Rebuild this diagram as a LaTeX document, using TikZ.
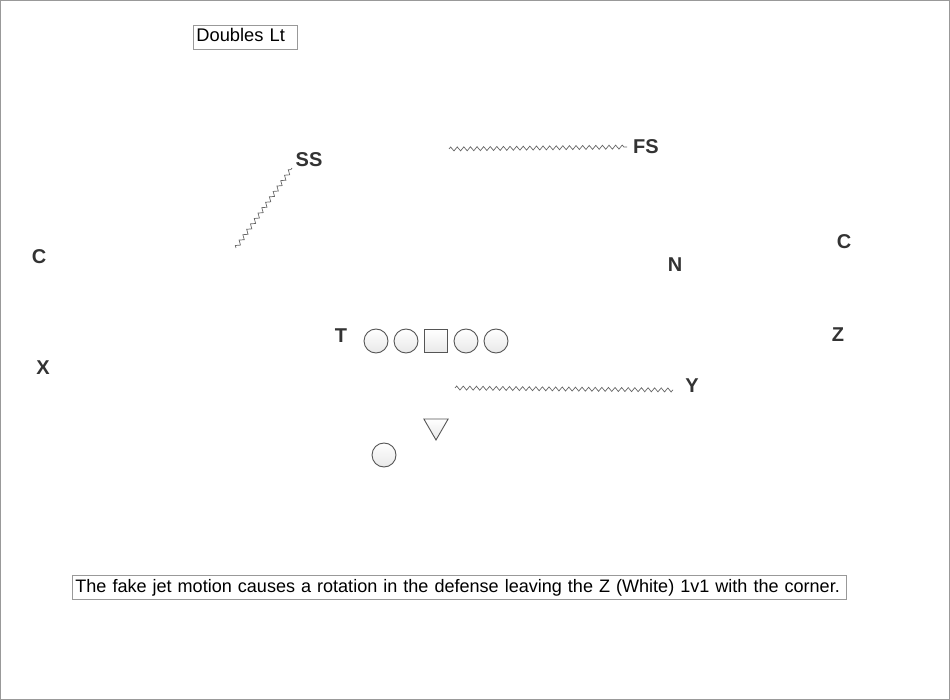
\documentclass[tikz,border=0pt]{standalone}
\usepackage{fontspec}
\setmainfont{Liberation Sans}
\usepackage{tikz}
\usetikzlibrary{decorations.pathmorphing,shapes.geometric}

\definecolor{labelgray}{HTML}{333333}
\definecolor{linegray}{HTML}{555555}
\definecolor{framegray}{HTML}{999999}

\tikzset{
  player/.style={draw=linegray, line width=0.9pt, top color=white, bottom color=gray!18, circle, minimum size=24pt, inner sep=0pt},
  center/.style={draw=linegray, line width=0.9pt, top color=white, bottom color=gray!18, rectangle, minimum size=23pt, inner sep=0pt},
  qback/.style={draw=linegray, line width=0.9pt, top color=white, bottom color=gray!18, regular polygon, regular polygon sides=3, shape border rotate=180, minimum size=28pt, inner sep=0pt},
  defender/.style={font=\fontsize{20}{20}\selectfont\bfseries, text=labelgray, inner sep=0pt},
  read/.style={draw=linegray!90, line width=0.7pt, decorate, decoration={zigzag, segment length=6.6pt, amplitude=2pt}},
  textbox/.style={draw=framegray, line width=0.8pt, rectangle, align=left, inner xsep=3pt, inner ysep=3.5pt, text height=13pt, text depth=4pt, anchor=west}
}

\begin{document}
\begin{tikzpicture}[x=1pt, y=-1pt]
				\useasboundingbox (0,0) rectangle (950,700);
				\draw[framegray, line width=1pt] (0.5,0.5) rectangle (949.5,699.5);
				
				\node (title) [textbox, text width=98pt, font=\fontsize{18.3}{18.3}\selectfont] at (193,37) {Doubles Lt};
				\node (note) [textbox, text width=768pt, font=\fontsize{18.05}{18.05}\selectfont] at (72,587.5) {\mbox{The fake jet motion causes a rotation in the defense leaving the Z (White) 1v1 with the corner.}};
				
				% Defense
				\node (ss) [defender] at (309,160) {SS};
				\node (fs) [defender] at (646,147) {FS};
				\node (cl) [defender] at (39,257) {C};
				\node (cr) [defender] at (844,242) {C};
				\node (n) [defender] at (675,265) {N};
				
				% Offense
				\node (t) [defender] at (341,336) {T};
				\node (z) [defender] at (838,335) {Z};
				\node (x) [defender] at (43,368) {X};
				\node (y) [defender] at (692,386) {Y};
				\node (lt) [player] at (376,341) {};
				\node (lg) [player] at (406,341) {};
				\node (c) [center] at (436,341) {};
				\node (rg) [player] at (466,341) {};
				\node (rt) [player] at (496,341) {};
				\node (qb) [qback] at (436,426) {};
				\node (rb) [player] at (384,455) {};
				
				% Reads
				\coordinate (ssstart) at (236,248);
				\coordinate (ssend) at (292,168);
				\coordinate (fsstart) at (449,149);
				\coordinate (ystart) at (455,388);
				\draw[read] (ssstart) -- (ssend);
				\draw[read] (fsstart) -- ([xshift=-6pt]fs.west);
				\draw[read] (ystart) -- ([xshift=-12pt, yshift=-4pt]y.west);
			\end{tikzpicture}
\end{document}
